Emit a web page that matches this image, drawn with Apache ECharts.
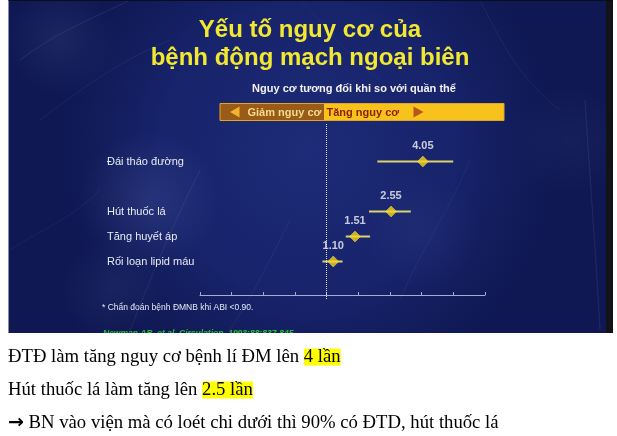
<!DOCTYPE html>
<html>
<head>
<meta charset="utf-8">
<script src="https://cdn.jsdelivr.net/npm/echarts@6/dist/echarts.min.js"></script>
<style>
html,body{margin:0;padding:0;background:#fff;}
#c{width:617px;height:436px;}
</style>
</head>
<body>
<div id="c"></div>
<script>
// ---- data ----
const categories = ['', 'Rối loạn lipid máu', 'Tăng huyết áp', 'Hút thuốc lá', ' ', 'Đái tháo đường', '  '];
const factors = ['Đái tháo đường', 'Hút thuốc lá', 'Tăng huyết áp', 'Rối loạn lipid máu'];
const relativeRisk = [4.05, 2.55, 1.51, 1.10];
const ciLow = [2.09, 1.85, 1.32, 0.94];
const ciHigh = [6.3, 3.4, 1.88, 1.26];
const titleLines = ['Yếu tố nguy cơ của', 'bệnh động mạch ngoại biên'];
const subtitle = 'Nguy cơ tương đối khi so với quần thể';
const bannerLeft = 'Giảm nguy cơ';
const bannerRight = 'Tăng nguy cơ';
const footnote = '* Chẩn đoán bệnh ĐMNB khi ABI <0.90.';
const citation = 'Newman AB, et al. Circulation. 1993;88:837-845';
const notes = [
  ['', 'ĐTĐ làm tăng nguy cơ bệnh lí ĐM lên ', '4 lần'],
  ['', 'Hút thuốc lá làm tăng lên ', '2.5 lần'],
  ['→', ' BN vào viện mà có loét chi dưới thì 90% có ĐTD, hút thuốc lá', '']
];

const base = Math.pow(10, 0.2);
const SANS = '"Liberation Sans", Arial, Helvetica, sans-serif';
const SERIF = '"Liberation Serif", "Times New Roman", serif';

const chart = echarts.init(document.getElementById('c'), null, {renderer: 'canvas'});

function streak(points, alpha, w) {
  return {
    type: 'bezierCurve', z: -9, silent: true,
    shape: {x1: points[0], y1: points[1], cpx1: points[2], cpy1: points[3], cpx2: points[4], cpy2: points[5], x2: points[6], y2: points[7]},
    style: {stroke: 'rgba(190,205,255,' + alpha + ')', lineWidth: w, fill: null, shadowBlur: 3, shadowColor: 'rgba(190,205,255,' + alpha + ')'}
  };
}
function cloud(cx, cy, r, alpha) {
  return {
    type: 'circle', z: -9, silent: true,
    shape: {cx: cx, cy: cy, r: r},
    style: {fill: {type: 'radial', x: 0.5, y: 0.5, r: 0.5, colorStops: [
      {offset: 0, color: 'rgba(140,160,230,' + alpha + ')'}, {offset: 1, color: 'rgba(140,160,230,0)'}]}}
  };
}

const graphics = [
  {type: 'rect', z: -10, silent: true, shape: {x: 8.5, y: 0, width: 598, height: 333},
   style: {fill: {type: 'radial', x: 0.5, y: 0.45, r: 0.75, colorStops: [
     {offset: 0, color: '#1d2b78'}, {offset: 0.6, color: '#17236a'}, {offset: 1, color: '#0f1852'}]}}},
  cloud(150, 200, 70, 0.14),
  cloud(60, 40, 55, 0.10),
  cloud(110, 290, 50, 0.08),
  cloud(420, 230, 60, 0.06),
  cloud(570, 140, 55, 0.06),
  streak([20, 60, 60, 30, 90, 20, 130, 0], 0.10, 1),
  streak([40, 120, 80, 90, 120, 60, 170, 40], 0.07, 1),
  streak([130, 330, 150, 280, 170, 230, 200, 170], 0.09, 1),
  streak([230, 330, 250, 300, 270, 260, 290, 220], 0.07, 1),
  streak([400, 300, 420, 250, 450, 210, 470, 160], 0.06, 1),
  streak([480, 0, 500, 40, 520, 80, 560, 110], 0.07, 1),
  streak([585, 100, 590, 180, 595, 240, 600, 330], 0.09, 1.2),
  streak([300, 0, 330, 30, 350, 60, 380, 80], 0.05, 1),
  streak([10, 250, 40, 230, 70, 220, 100, 190], 0.06, 1),
  {type: 'rect', z: -8, silent: true, shape: {x: 606, y: 0, width: 7, height: 333}, style: {fill: '#111318'}},
  {type: 'rect', z: -8, silent: true, shape: {x: 8.5, y: 0, width: 604.5, height: 1}, style: {fill: '#0a0d20'}},
  // title
  {type: 'text', x: 310, y: 30, style: {text: titleLines[0], fill: '#f2e832', font: 'bold 24px ' + SANS, align: 'center', verticalAlign: 'middle'}},
  {type: 'text', x: 310, y: 58, style: {text: titleLines[1], fill: '#f2e832', font: 'bold 24px ' + SANS, align: 'center', verticalAlign: 'middle'}},
  {type: 'text', x: 354, y: 89, style: {text: subtitle, fill: '#f2f2f2', font: 'bold 11px ' + SANS, align: 'center', verticalAlign: 'middle'}},
  // banner
  {type: 'rect', shape: {x: 220, y: 103.5, width: 104, height: 17}, style: {fill: '#9a5a18'}},
  {type: 'rect', shape: {x: 324, y: 103.5, width: 180, height: 17}, style: {fill: '#f7c21c'}},
  {type: 'rect', shape: {x: 220, y: 103.5, width: 284, height: 17}, style: {fill: null, stroke: '#e3a624', lineWidth: 1}},
  {type: 'polygon', shape: {points: [[230, 112], [239.5, 106.5], [239.5, 117.5]]}, style: {fill: '#f2b42a'}},
  {type: 'text', x: 247.5, y: 112.5, style: {text: bannerLeft, fill: '#f3dc8c', font: 'bold 11px ' + SANS, align: 'left', verticalAlign: 'middle'}},
  {type: 'text', x: 326.5, y: 112.5, style: {text: bannerRight, fill: '#8a1e02', font: 'bold 11px ' + SANS, align: 'left', verticalAlign: 'middle'}},
  {type: 'polygon', shape: {points: [[413.5, 106.5], [423.5, 112], [413.5, 117.5]]}, style: {fill: '#b8561a'}},
  // footnotes
  {type: 'text', x: 102, y: 308, style: {text: footnote, fill: '#e6e9f4', font: '8.5px ' + SANS, align: 'left', verticalAlign: 'middle'}},
  {type: 'text', x: 103, y: 329.5, z: 1, style: {text: citation, fill: '#22c22c', font: 'italic bold 8.5px ' + SANS, align: 'left', verticalAlign: 'top'}},
  {type: 'rect', z: 5, silent: true, shape: {x: 0, y: 333, width: 617, height: 12}, style: {fill: '#ffffff'}}
];

const noteY = [357, 390, 423];
notes.forEach((n, i) => {
  let txt = '';
  if (n[0]) txt += '{a|' + n[0] + '}';
  txt += '{t|' + n[1] + '}';
  if (n[2]) txt += '{h|' + n[2] + '}';
  graphics.push({
    type: 'text', x: 8, y: noteY[i], z: 6,
    style: {
      text: txt,
      align: 'left', verticalAlign: 'middle',
      rich: {
        a: {fontFamily: '"DejaVu Sans", sans-serif', fontWeight: 'bold', fontSize: 19, fill: '#000', lineHeight: 19},
        t: {fontFamily: SERIF, fontSize: 18.7, fill: '#000', lineHeight: 19},
        h: {fontFamily: SERIF, fontSize: 18.7, fill: '#000', backgroundColor: '#ffff00', lineHeight: 19, height: 17}
      }
    }
  });
});

const option = {
  animation: false,
  backgroundColor: '#ffffff',
  graphic: graphics,
  grid: {left: 200, right: 132, top: 124, bottom: 137},
  xAxis: {
    type: 'log',
    logBase: base,
    min: Math.pow(base, -4),
    max: Math.pow(base, 5),
    offset: -4,
    axisLine: {show: true, lineStyle: {color: '#a4acd0', width: 1}},
    axisTick: {show: true, inside: true, length: 3, lineStyle: {color: '#a4acd0'}},
    axisLabel: {show: false},
    splitLine: {show: false},
    minorTick: {show: false}
  },
  yAxis: {
    type: 'category',
    data: categories,
    axisLine: {show: false},
    axisTick: {show: false},
    splitLine: {show: false},
    axisLabel: {align: 'left', margin: 93, color: '#e8ebf4', fontSize: 11, fontFamily: SANS, interval: 0}
  },
  series: [
    {
      type: 'custom',
      data: factors.map((f, i) => [ciLow[i], ciHigh[i], f]),
      encode: {x: [0, 1], y: 2},
      renderItem: function (params, api) {
        const y = api.value(2);
        const p1 = api.coord([api.value(0), y]);
        const p2 = api.coord([api.value(1), y]);
        return {type: 'line', shape: {x1: p1[0], y1: p1[1], x2: p2[0], y2: p2[1]},
                style: {stroke: '#d9d46c', lineWidth: 2}};
      },
      z: 2
    },
    {
      type: 'scatter',
      data: factors.map((f, i) => [relativeRisk[i], f]),
      symbol: 'diamond',
      symbolSize: [11, 11],
      itemStyle: {color: '#f7d418', borderColor: '#f9e070', borderWidth: 0.5},
      label: {
        show: true, position: 'top', distance: 4,
        formatter: p => p.value[0].toFixed(2),
        color: '#f4f4f8', fontWeight: 'bold', fontSize: 11, fontFamily: SANS
      },
      markLine: {
        silent: true, symbol: 'none', label: {show: false},
        lineStyle: {type: 'dotted', color: '#dfe3f2', width: 1},
        data: [{xAxis: 1}]
      },
      z: 3
    }
  ]
};
chart.setOption(option);
</script>
</body>
</html>
